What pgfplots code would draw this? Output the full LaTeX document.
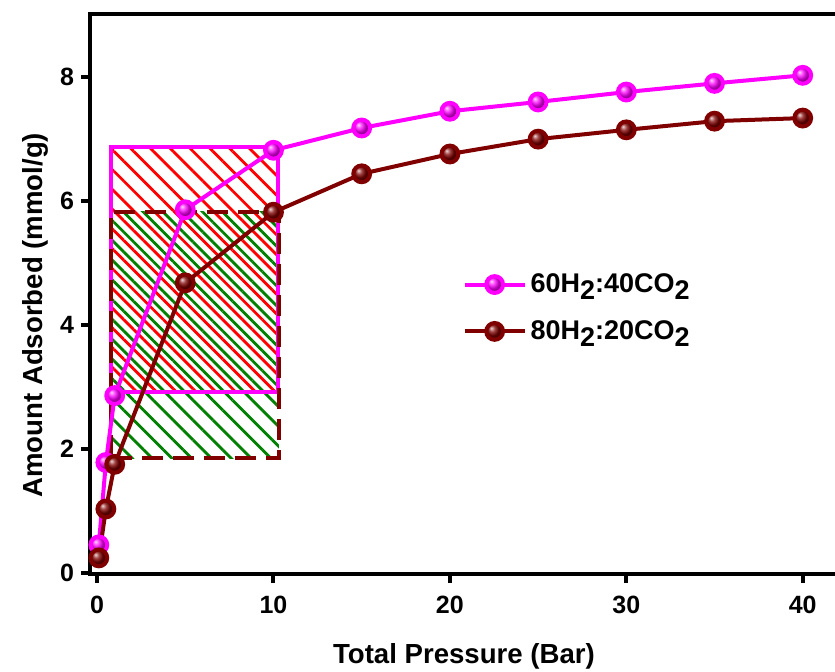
\documentclass[border=0pt]{standalone}
\usepackage{fontspec}
\setmainfont{Liberation Sans}
\usepackage{pgfplots}
\pgfplotsset{compat=1.18}
\usetikzlibrary{patterns.meta}
\definecolor{dred}{HTML}{800000}
\definecolor{hgreen}{HTML}{008000}
\definecolor{mag}{HTML}{FF00FF}
\newcommand{\sub}[1]{\raisebox{-0.5ex}{#1}}
\begin{document}
\begin{tikzpicture}
\begin{axis}[
  scale only axis, width=374pt, height=280pt,
  xmin=-0.4, xmax=42, ymin=-0.02, ymax=9.02,
  axis line style={line width=2pt},
  xtick={0,10,20,30,40}, ytick={0,2,4,6,8},
  xtick pos=bottom, ytick pos=left,
  tick align=outside, major tick length=4.5pt,
  tick style={line width=2pt, black},
  /pgf/number format/assume math mode=true,
  tick label style={font=\fontsize{12.5}{13}\selectfont\bfseries},
  xticklabel style={yshift=-3pt},
  xlabel={Total Pressure (Bar)}, ylabel={Amount Adsorbed (mmol/g)},
  label style={font=\fontsize{13.8}{15}\selectfont\bfseries},
  xlabel style={at={(axis description cs:0.5,0)}, anchor=center, yshift=-41pt},
  ylabel style={at={(axis description cs:0,0.462)}, anchor=center, yshift=27.5pt},
  legend style={draw=none, fill=none, at={(axis cs:20.7,4.9)}, anchor=north west,
    inner sep=0pt, row sep=8.5pt, font=\fontsize{13.5}{15}\selectfont\bfseries},
  legend cell align=left,
  legend image code/.code={
    \draw[mark repeat=2,mark phase=2,#1] plot coordinates {(0pt,0pt) (15pt,0pt) (30pt,0pt)};
  },
]
% hatched regions
\addplot[draw=none, pattern={Lines[angle=-45,distance=7pt,line width=1.4pt]}, pattern color=red, forget plot]
  coordinates {(0.78,2.92) (10.26,2.92) (10.26,6.87) (0.78,6.87)} -- cycle;
\addplot[draw=none, pattern={Lines[angle=-45,distance=7pt,line width=1.4pt,yshift=4.2pt]}, pattern color=hgreen, forget plot]
  coordinates {(0.78,1.85) (10.3,1.85) (10.3,5.83) (0.78,5.83)} -- cycle;
\addplot[mag, line width=2pt, no marks, forget plot]
  coordinates {(0.78,2.92) (10.26,2.92) (10.26,6.87) (0.78,6.87)} -- cycle;
\addplot[dred, line width=2pt, no marks, dash pattern=on 10.5pt off 5pt, forget plot]
  coordinates {(0.78,1.85) (10.3,1.85) (10.3,5.83) (0.78,5.83)} -- cycle;
% curves
\addplot[mag, line width=2pt, mark=ball, mark size=4.2pt, mark options={ball color=mag, solid}]
  coordinates {(0.1,0.45) (0.5,1.78) (1,2.86) (5,5.86) (10,6.82) (15,7.18) (20,7.45) (25,7.6) (30,7.76) (35,7.9) (40,8.03)};
\addlegendentry{60H\sub{2}:40CO\sub{2}}
\addplot[dred, line width=2pt, mark=ball, mark size=4.2pt, mark options={ball color=dred, solid}]
  coordinates {(0.1,0.24) (0.5,1.03) (1,1.75) (5,4.68) (10,5.82) (15,6.44) (20,6.76) (25,7.0) (30,7.15) (35,7.29) (40,7.34)};
\addlegendentry{80H\sub{2}:20CO\sub{2}}
\end{axis}
\pgfresetboundingbox
\path[use as bounding box] ([shift={(-45pt,-48.5pt)}]current axis.south west) rectangle ([shift={(372.5pt,287pt)}]current axis.south west);
\end{tikzpicture}
\end{document}
